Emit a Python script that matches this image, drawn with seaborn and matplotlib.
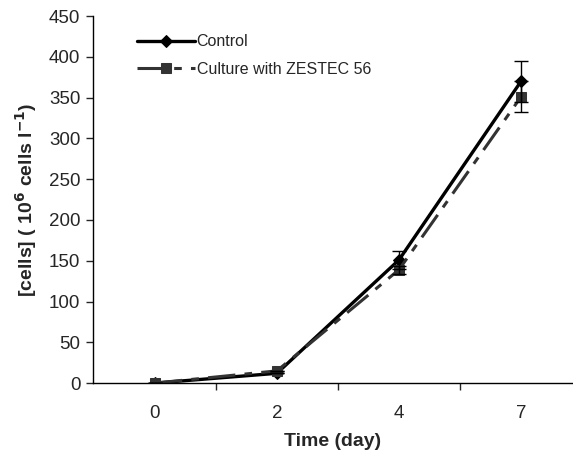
import numpy as np
import pandas as pd
import matplotlib
matplotlib.use("Agg")
import matplotlib.pyplot as plt
import seaborn as sns

# Data
days = ["0", "2", "4", "7"]
control = [0, 12, 151, 370]
control_err = [0, 0, 11, 25]
zestec = [0, 15, 139, 351]
zestec_err = [0, 0, 5, 19]

sns.set_style("white")
plt.rcParams["font.family"] = ["Liberation Sans", "DejaVu Sans"]

pos = np.arange(len(days))
df = pd.DataFrame({
    "pos": np.concatenate([pos, pos]),
    "cells": control + zestec,
    "serie": ["Control"] * len(days) + ["Culture with ZESTEC 56"] * len(days),
})

fig = plt.figure(figsize=(5.73, 4.61), dpi=100)
ax = fig.add_axes([0.162, 0.169, 0.838, 0.796])

sns.lineplot(data=df[df.serie == "Control"], x="pos", y="cells", ax=ax,
             color="black", lw=2.4, marker="D", markersize=6.5,
             markeredgecolor="black", label="Control")
sns.lineplot(data=df[df.serie != "Control"], x="pos", y="cells", ax=ax,
             color="#333333", lw=2.2, marker="s", markersize=7,
             markeredgecolor="#333333", label="Culture with ZESTEC 56",
             dashes=False)
ax.lines[-1].set_dashes([9, 3, 2.5, 3])

ax.errorbar(pos, control, yerr=control_err, fmt="none", ecolor="black",
            elinewidth=1, capsize=5, capthick=1)
ax.errorbar(pos, zestec, yerr=zestec_err, fmt="none", ecolor="black",
            elinewidth=1, capsize=5, capthick=1)

ax.set_xlim(-0.508, 3.426)
ax.set_ylim(0, 450)
ax.set_yticks(np.arange(0, 451, 50))
ax.set_xticks(pos)
ax.set_xticklabels(days)
ax.set_xticks(pos[:-1] + 0.5, minor=True)
ax.tick_params(axis="x", which="major", length=0, pad=16, labelsize=13.5)
ax.tick_params(axis="x", which="minor", length=5, width=1, direction="out", bottom=True)
ax.tick_params(axis="y", length=5, width=1, direction="out", left=True, labelsize=13.5, pad=4)

for s in ["top", "right"]:
    ax.spines[s].set_visible(False)
ax.spines["left"].set_color("black")
ax.spines["bottom"].set_color("black")
ax.spines["bottom"].set_linewidth(1)
ax.spines["left"].set_linewidth(1)

ax.set_xlabel("Time (day)", fontsize=14, fontweight="bold")
ax.set_ylabel(r"[cells] ( 10$^{\mathbf{6}}$ cells l$^{\mathbf{-1}}$)", fontsize=14,
              fontweight="bold")
ax.xaxis.set_label_coords(0.5, -0.135)
ax.yaxis.set_label_coords(-0.112, 0.5)

leg = ax.legend(loc="upper left", bbox_to_anchor=(0.063, 0.99), frameon=False,
                fontsize=11.5, handlelength=3.6, handletextpad=0.1, labelspacing=0.8)

fig.savefig("out.png", dpi=100)
